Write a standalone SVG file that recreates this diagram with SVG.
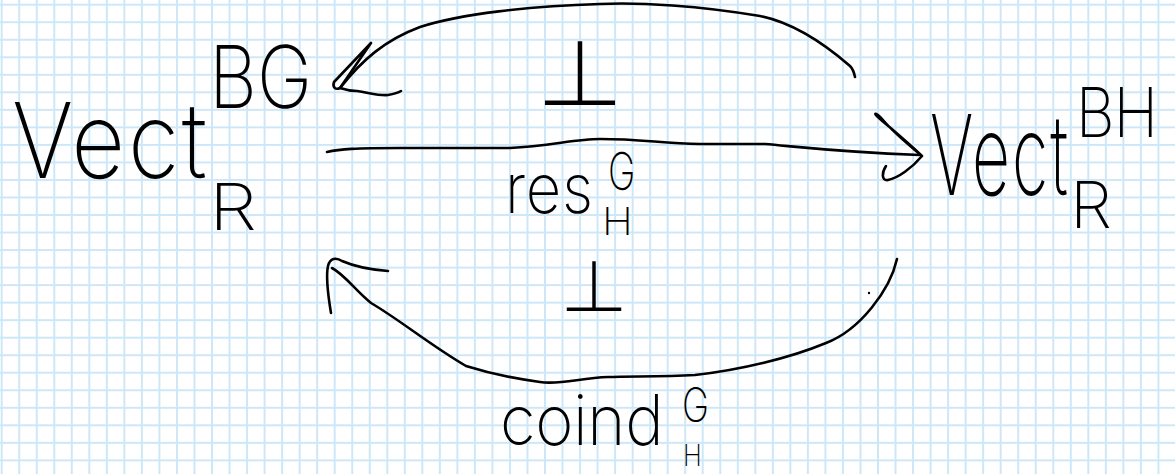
<svg xmlns="http://www.w3.org/2000/svg" width="1175" height="474" viewBox="0 0 1175 474">
  <defs>
    <pattern id="grid" patternUnits="userSpaceOnUse" x="-7.063" y="-4.063" width="17.526" height="17.526">
      <path d="M8.763,0 V17.526 M0,8.763 H17.526" stroke="#cde7f8" stroke-width="2" fill="none"/>
    </pattern>
  </defs>
  <style>
    .hw { font-family: Inter, "DejaVu Sans", "Liberation Sans", sans-serif; font-weight: 200; fill: #000; }
    .sym { font-family: Inter, "Noto Sans CJK JP", "DejaVu Sans", sans-serif; font-weight: 200; fill: #000; }
    .pen { fill: none; stroke: #000; stroke-width: 2.6; stroke-linecap: round; stroke-linejoin: round; }
  </style>
  <rect width="1175" height="474" fill="#ffffff"/>
  <rect width="1175" height="474" fill="url(#grid)"/>

  <g id="node-vect-BG">
    <text class="hw" transform="translate(12,178) scale(0.89,1)" font-size="105" textLength="219" lengthAdjust="spacing">Vect</text>
    <text class="hw" transform="translate(209,108) scale(0.866,1)" font-size="86" textLength="119" lengthAdjust="spacing">BG</text>
    <text class="hw" transform="translate(209,230) scale(1.2,1)" font-size="64">R</text>
  </g>

  <g id="node-vect-BH">
    <text class="hw" transform="translate(930,195) scale(0.59,1)" font-size="112" textLength="234" lengthAdjust="spacing">Vect</text>
    <text class="hw" transform="translate(1076,137) scale(0.88,1)" font-size="68" textLength="93" lengthAdjust="spacing">BH</text>
    <text class="hw" transform="translate(1070,228) scale(1.05,1)" font-size="64">R</text>
  </g>

  <g id="connectors">
    <!-- top arrow: Vect^BH -> Vect^BG -->
    <path class="pen" d="M855,77 C854,72 852,68 850,66 C820,40 790,22 760,16 C700,6 640,2 600,4 C530,6 460,14 420,27 C385,40 362,60 340,88"/>
    <path class="pen" d="M371,43 L334,82 C332,88 336,90 340,88 L371,43 M340,88 C346,90 350,91 357,91 C370,93 380,96 388,95 C394,94 398,93 401,91"/>
    <!-- middle arrow: res -->
    <path class="pen" d="M327,152 C340,149 355,148 400,148 L510,148 C550,146 575,139 600,139 C640,139 660,143 700,144 L765,144 C800,147 840,152 920,155"/>
    <path class="pen" d="M922,156 C905,140 888,126 879,118 C872,112 876,112 883,120 C895,134 910,146 922,156 C912,168 898,178 888,180 C881,181 882,172 886,166"/>
    <!-- bottom arrow: coind -->
    <path class="pen" d="M897,259 C890,290 860,330 826,343 C790,358 740,370 695,375 C660,377 630,376 608,377 C580,378 560,385 540,382 C510,378 485,372 466,366 C430,345 400,320 371,303 C355,290 345,275 332,268"/>
    <path class="pen" d="M331,313 C328,295 326,275 328,266 C330,258 336,257 342,261 C358,268 375,270 388,271"/>
    <circle cx="869" cy="293" r="1.2" fill="#000"/>
    <!-- labels -->
    <text class="sym" x="580" y="108" font-size="90" text-anchor="middle">⊥</text>
    <text class="hw" transform="translate(505,213) scale(0.88,1)" font-size="70" textLength="100" lengthAdjust="spacing">res</text>
    <text class="hw" transform="translate(608,190) scale(0.71,1)" font-size="52">G</text>
    <text class="hw" transform="translate(602,235) scale(1.1,1)" font-size="38">H</text>
    <text class="sym" x="594" y="314" font-size="70" text-anchor="middle">⊥</text>
    <text class="hw" transform="translate(500,445) scale(0.93,1)" font-size="70" textLength="176" lengthAdjust="spacing">coind</text>
    <text class="hw" transform="translate(682,422) scale(0.76,1)" font-size="48">G</text>
    <text class="hw" transform="translate(683,466) scale(0.85,1)" font-size="30">H</text>
  </g>
</svg>
